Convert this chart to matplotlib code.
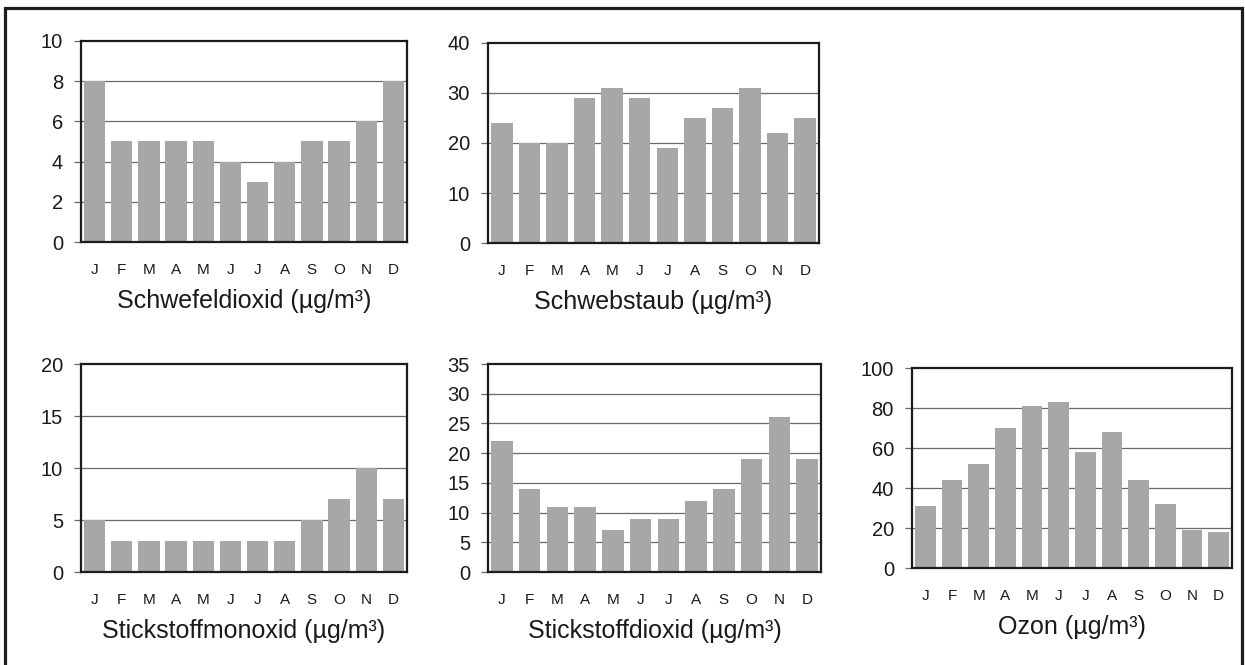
import matplotlib
matplotlib.use("Agg")
import matplotlib.pyplot as plt
from matplotlib.patches import Rectangle
from matplotlib.transforms import ScaledTranslation

plt.rcParams['font.family'] = ['Liberation Sans', 'DejaVu Sans']

months = ["J", "F", "M", "A", "M", "J", "J", "A", "S", "O", "N", "D"]

so2 = [8, 5, 5, 5, 5, 4, 3, 4, 5, 5, 6, 8]
schwebstaub = [24, 20, 20, 29, 31, 29, 19, 25, 27, 31, 22, 25]
no = [5, 3, 3, 3, 3, 3, 3, 3, 5, 7, 10, 7]
no2 = [22, 14, 11, 11, 7, 9, 9, 12, 14, 19, 26, 19]
ozon = [31, 44, 52, 70, 81, 83, 58, 68, 44, 32, 19, 18]

titles = ["Schwefeldioxid (µg/m³)", "Schwebstaub (µg/m³)",
          "Stickstoffmonoxid (µg/m³)", "Stickstoffdioxid (µg/m³)",
          "Ozon (µg/m³)"]
series = [so2, schwebstaub, no, no2, ozon]
y_max = [10, 40, 20, 35, 100]
y_step = [2, 10, 5, 5, 20]

W, H = 1245, 665
fig = plt.figure(figsize=(W / 100, H / 100), dpi=100)

# panel boxes in pixels: left, right, top, bottom
boxes = [
    (81, 407, 41, 242),
    (488, 819, 43, 243),
    (81, 407, 364, 572),
    (488, 821, 364, 572),
    (912, 1232, 368, 568),
]

bar_color = "#a7a7a9"
frame_color = "#1c1c1c"
grid_color = "#6a6a6a"
text_color = "#1a1a1a"

for (l, r, t, b), vals, title, ymax, step in zip(boxes, series, titles, y_max, y_step):
    ax = fig.add_axes([l / W, 1 - b / H, (r - l) / W, (b - t) / H])
    x = list(range(len(months)))
    ax.bar(x, vals, width=0.78, color=bar_color, zorder=2)
    ax.set_xlim(-0.5, len(months) - 0.5)
    ax.set_ylim(0, ymax)
    ticks = list(range(0, ymax + 1, step))
    ax.set_yticks(ticks)
    ax.set_yticklabels([str(v) for v in ticks], fontsize=14.5, color=text_color)
    for v in ticks[1:-1]:
        ax.axhline(v, color=grid_color, lw=0.9, zorder=1)
    ax.tick_params(axis="y", direction="out", length=5, width=0.9,
                   color=grid_color, pad=8)
    ax.set_xticks(x)
    ax.set_xticklabels(months, fontsize=11, color=text_color)
    ax.tick_params(axis="x", length=0, pad=15)
    for s in ax.spines.values():
        s.set_color(frame_color)
        s.set_linewidth(1.6)
        s.set_zorder(3)
    # chart caption below the month labels
    off = ScaledTranslation(0, -59 / 100, fig.dpi_scale_trans)
    ax.text(0.5, 0.0, title, transform=ax.transAxes + off,
            ha="center", va="center", fontsize=18, color=text_color)

# outer frame around the whole sheet
fig.patches.append(Rectangle((5.5 / W, -0.05), (1242 - 5.5) / W, 1.05 - 7.5 / H,
                             transform=fig.transFigure, fill=False,
                             edgecolor="#1e1e1e", linewidth=2.3))

fig.savefig("out.png", dpi=100)
